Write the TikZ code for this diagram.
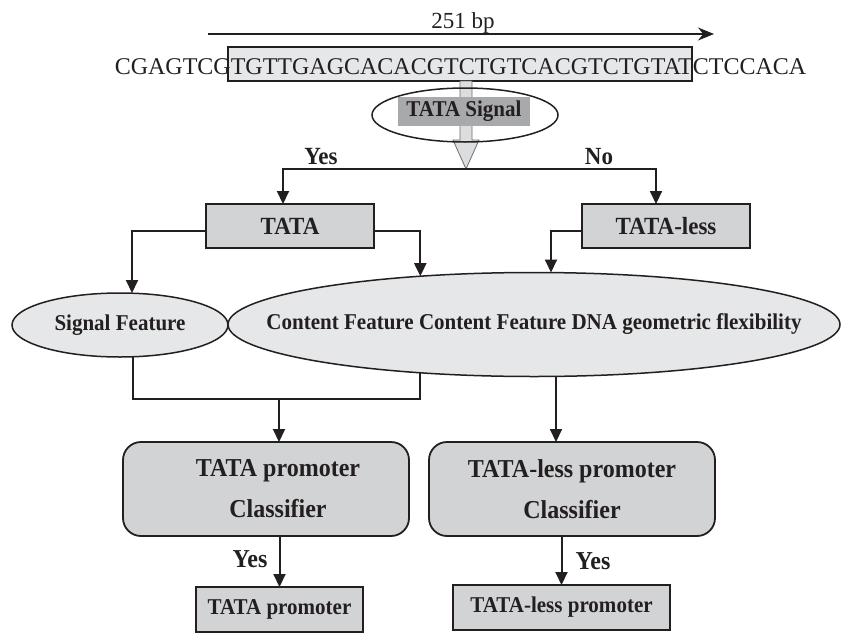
\documentclass[tikz,border=0pt]{standalone}
\usepackage{fontspec}
\setmainfont{Liberation Serif}
\newfontfamily\cb[FakeStretch=0.93]{Liberation Serif}
\usetikzlibrary{arrows.meta,calc,shapes.geometric}
\definecolor{ink}{HTML}{231F20}
\definecolor{seqfill}{HTML}{E6E7E8}
\definecolor{siggray}{HTML}{A7A9AC}
\definecolor{hollowfill}{HTML}{DCDDDE}
\definecolor{hollowline}{HTML}{6D6E71}
\definecolor{boxgray}{HTML}{D1D3D4}
\definecolor{ellfill}{HTML}{E6E7E8}
\begin{document}
\begin{tikzpicture}[x=1pt,y=-1pt,
  every node/.style={text=ink, inner sep=0pt, outer sep=0pt},
  conn/.style={draw=ink, line width=2pt},
  arr/.style={conn, -{Triangle[length=13pt,width=12pt]}},
  greybox/.style={draw=ink, line width=1.8pt, fill=boxgray, font=\cb\bfseries\fontsize{24.7}{29}\selectfont},
  feat/.style={ellipse, draw=ink, line width=1.5pt, fill=ellfill, font=\cb\bfseries\fontsize{22.6}{26}\selectfont},
  cls/.style={rectangle, rounded corners=18pt, draw=ink, line width=1.8pt, fill=boxgray, minimum width=286pt, minimum height=94pt, align=center, font=\cb\bfseries\fontsize{25.8}{41}\selectfont},
  res/.style={draw=ink, line width=1.8pt, fill=boxgray, minimum height=45pt, font=\cb\bfseries\fontsize{22.6}{26}\selectfont},
  lbl/.style={font=\cb\bfseries\fontsize{24.7}{29}\selectfont},
  hollow/.style={fill=hollowfill, draw=hollowline, line width=0.8pt}
]
\useasboundingbox (0,0) rectangle (841,635);

% length arrow
\coordinate (bpL) at (208,34);
\coordinate (bpR) at (714,34);
\draw[draw=ink, line width=1.2pt, -{Stealth[length=16pt,width=13pt]}] (bpL) -- (bpR);
\node[anchor=base, font=\fontsize{23}{27}\selectfont] (bp) at (463,28) {251 bp};

% sequence
\node[draw=ink, line width=2pt, fill=seqfill, minimum width=464pt, minimum height=34pt] (hl) at (460,64) {};
\node[anchor=base, font=\fontsize{24}{28}\selectfont] (seq) at (460.5,74) {CGAGTCGTGTTGAGCACACGTCTGTCACGTCTGTATCTCCACA};

% hollow arrow
\coordinate (hs) at ([xshift=6pt]hl.south);
\coordinate (ht) at (466,169);
\draw[hollow] ($(hs)+(-6,0)$) -- ($(ht)+(-6,-29)$) -- ($(ht)+(-13,-29)$) -- (ht) -- ($(ht)+(13,-29)$) -- ($(ht)+(6,-29)$) -- ($(hs)+(6,0)$) -- cycle;

% TATA signal
\node[ellipse, draw=ink, line width=1.5pt, minimum width=186pt, minimum height=54pt] (sigell) at (465,115) {};
\node[fill=siggray, minimum width=132pt, minimum height=29pt, font=\cb\bfseries\fontsize{22.6}{26}\selectfont] (sig) at (464,111.5) {TATA Signal};

% labels
\node[lbl] (yes1) at (321,157) {Yes};
\node[lbl] (no1) at (599,157) {No};

% TATA / TATA-less boxes
\node[greybox, minimum width=168pt, minimum height=44pt] (tata) at (290,226) {TATA};
\node[greybox, minimum width=168pt, minimum height=44pt] (tless) at (666,226) {TATA-less};

\draw[arr] (ht) -| ([xshift=-7pt]tata.north);
\draw[arr] (ht) -| ([xshift=-10pt]tless.north);

% feature ellipses
\node[feat, minimum width=216pt, minimum height=64pt] (sf) at (120,325) {Signal Feature};
\node[feat, minimum width=612pt, minimum height=104pt] (cf) at (534,324.5) {\makebox[0pt]{Content Feature Content Feature DNA geometric flexibility}};

\draw[arr] ([yshift=-5pt]tata.west) -| ([xshift=12pt]sf.north);
\draw[arr] ([yshift=-5pt]tata.east) -| (cf.157.3);
\draw[arr] ([yshift=-5pt]tless.west) -| ([xshift=17pt]cf.north);

% classifiers
\node[cls] (tcl) at (266,489) {\hspace*{24pt}TATA promoter\\\hspace*{24pt}Classifier};
\node[cls] (lcl) at (572,489) {TATA-less promoter\\Classifier};

\coordinate (mergeL) at (279,399);
\draw[conn] ([xshift=13pt]sf.south) |- (mergeL) -| (cf.203.1);
\draw[arr] (mergeL) -- (mergeL |- tcl.north);
\coordinate (rdrop) at ([xshift=22pt]cf.south);
\draw[arr] (rdrop) -- (rdrop |- lcl.north);

% results
\node[res, minimum width=167pt] (tres) at (279.5,609.5) {TATA promoter};
\node[res, minimum width=217pt] (lres) at (561.5,607.5) {TATA-less promoter};
\draw[arr] (tres.north |- tcl.south) -- (tres.north);
\draw[arr] (lres.north |- lcl.south) -- (lres.north);
\node[lbl, font=\cb\bfseries\fontsize{25.8}{30}\selectfont] (yes2) at (250,559) {Yes};
\node[lbl, font=\cb\bfseries\fontsize{25.8}{30}\selectfont] (yes3) at (593,561) {Yes};
\end{tikzpicture}
\end{document}
